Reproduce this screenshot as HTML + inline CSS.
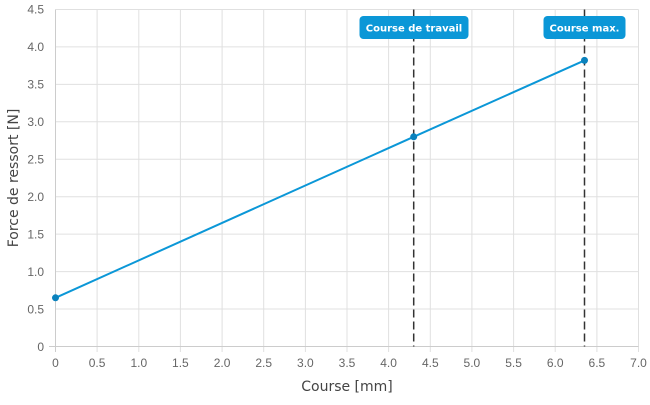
<!DOCTYPE html>
<html><head><style>body{margin:0;background:#fff}</style></head><body>
<svg width="650" height="400" xmlns="http://www.w3.org/2000/svg" font-family="DejaVu Sans, Liberation Sans, sans-serif">
<g stroke="#e0e0e0" stroke-width="1">
<line x1="55.5" y1="9.5" x2="638.5" y2="9.5"/><line x1="55.5" y1="46.9" x2="638.5" y2="46.9"/><line x1="55.5" y1="84.4" x2="638.5" y2="84.4"/><line x1="55.5" y1="121.8" x2="638.5" y2="121.8"/><line x1="55.5" y1="159.3" x2="638.5" y2="159.3"/><line x1="55.5" y1="196.7" x2="638.5" y2="196.7"/><line x1="55.5" y1="234.1" x2="638.5" y2="234.1"/><line x1="55.5" y1="271.6" x2="638.5" y2="271.6"/><line x1="55.5" y1="309" x2="638.5" y2="309"/>
<line x1="97.1" y1="9.5" x2="97.1" y2="352"/><line x1="138.8" y1="9.5" x2="138.8" y2="352"/><line x1="180.4" y1="9.5" x2="180.4" y2="352"/><line x1="222.1" y1="9.5" x2="222.1" y2="352"/><line x1="263.7" y1="9.5" x2="263.7" y2="352"/><line x1="305.4" y1="9.5" x2="305.4" y2="352"/><line x1="347" y1="9.5" x2="347" y2="352"/><line x1="388.6" y1="9.5" x2="388.6" y2="352"/><line x1="430.3" y1="9.5" x2="430.3" y2="352"/><line x1="471.9" y1="9.5" x2="471.9" y2="352"/><line x1="513.6" y1="9.5" x2="513.6" y2="352"/><line x1="555.2" y1="9.5" x2="555.2" y2="352"/><line x1="596.9" y1="9.5" x2="596.9" y2="352"/><line x1="638.5" y1="9.5" x2="638.5" y2="352"/>
</g>
<line x1="49" y1="346.5" x2="638.5" y2="346.5" stroke="#ccc"/>
<line x1="55.5" y1="9.5" x2="55.5" y2="352" stroke="#ccc"/>
<g fill="#666" font-size="12" text-anchor="end" font-family="Liberation Sans, sans-serif">
<text x="44" y="13.5">4.5</text><text x="44" y="51">4.0</text><text x="44" y="88.5">3.5</text><text x="44" y="126">3.0</text><text x="44" y="163.5">2.5</text><text x="44" y="201">2.0</text><text x="44" y="238.5">1.5</text><text x="44" y="276">1.0</text><text x="44" y="313.5">0.5</text><text x="44" y="351">0</text>
</g>
<g fill="#666" font-size="12" text-anchor="middle" font-family="Liberation Sans, sans-serif">
<text x="55.5" y="367">0</text><text x="97.1" y="367">0.5</text><text x="138.8" y="367">1.0</text><text x="180.4" y="367">1.5</text><text x="222.1" y="367">2.0</text><text x="263.7" y="367">2.5</text><text x="305.4" y="367">3.0</text><text x="347" y="367">3.5</text><text x="388.6" y="367">4.0</text><text x="430.3" y="367">4.5</text><text x="471.9" y="367">5.0</text><text x="513.6" y="367">5.5</text><text x="555.2" y="367">6.0</text><text x="596.9" y="367">6.5</text><text x="638.5" y="367">7.0</text>
</g>
<text x="347" y="391" font-size="14" fill="#444" text-anchor="middle">Course [mm]</text>
<text transform="translate(18,178) rotate(-90)" font-size="14" fill="#444" text-anchor="middle">Force de ressort [N]</text>
<g stroke="#333" stroke-width="1.5" stroke-dasharray="8,4">
<line x1="413.7" y1="9.5" x2="413.7" y2="346.5"/><line x1="584.5" y1="9.5" x2="584.5" y2="346.5"/>
</g>
<polyline points="55.5,297.8 413.7,136.8 584.5,60.4" fill="none" stroke="#0b97d7" stroke-width="2"/>
<g fill="#0b82bd"><circle cx="55.5" cy="297.8" r="3.5"/><circle cx="413.7" cy="136.8" r="3.5"/><circle cx="584.5" cy="60.4" r="3.5"/></g>
<rect x="359.5" y="16" width="109" height="23" rx="4" fill="#0b97d7"/>
<text x="414" y="31.5" font-size="10" font-weight="bold" fill="#fff" text-anchor="middle">Course de travail</text>
<rect x="543.5" y="16" width="82" height="23" rx="4" fill="#0b97d7"/>
<text x="584.5" y="31.5" font-size="10" font-weight="bold" fill="#fff" text-anchor="middle">Course max.</text>
</svg>
</body></html>
